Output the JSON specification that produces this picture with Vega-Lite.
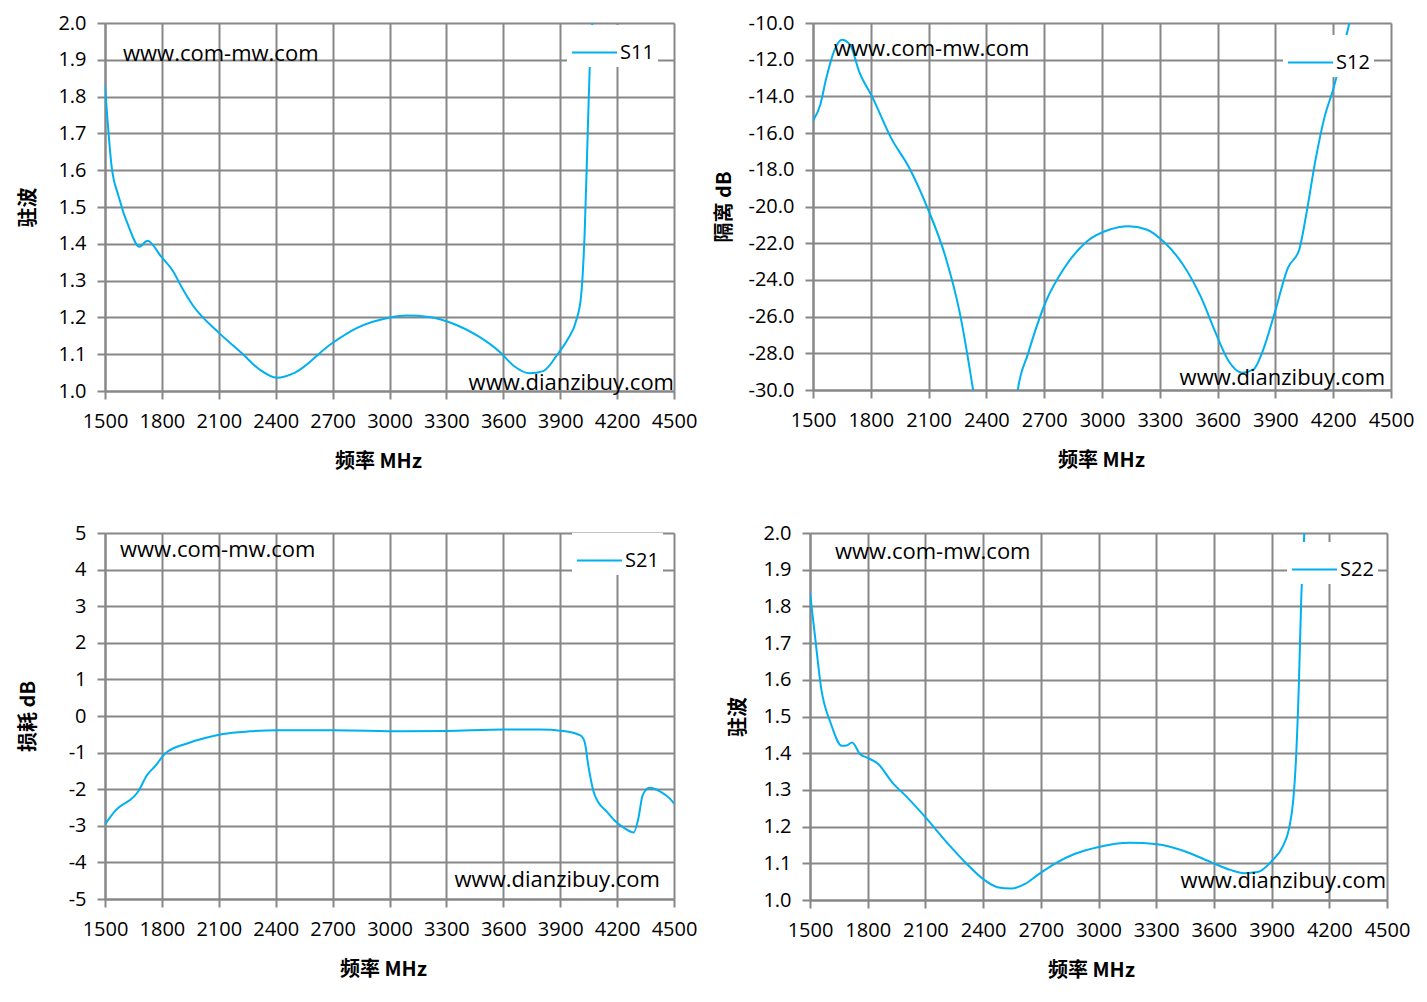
{
  "$schema": "https://vega.github.io/schema/vega-lite/v6.json",
  "background": "white",
  "padding": {"left": 18, "top": 13, "right": 0, "bottom": 12},
  "spacing": 52,
  "config": {
    "view": {"stroke": null},
    "axis": {
      "grid": true,
      "gridColor": "#878787",
      "gridWidth": 2,
      "gridOpacity": 1,
      "domainColor": "#878787",
      "domainWidth": 2,
      "tickColor": "#878787",
      "tickWidth": 2,
      "tickSize": 8,
      "tickCount": 20,
      "labelFont": "Open Sans",
      "labelFontSize": 20,
      "labelColor": "#000000",
      "titleFont": "Noto Sans CJK SC",
      "titleFontSize": 20,
      "titleFontWeight": "bold",
      "titleColor": "#000000"
    },
    "axisX": {"labelPadding": 12, "titlePadding": 20, "labelFlush": false, "labelOverlap": false},
    "axisY": {"labelPadding": 11, "titlePadding": 14, "labelOverlap": false},
    "legend": {
      "orient": "none",
      "title": null,
      "symbolType": "stroke",
      "symbolStrokeWidth": 2,
      "symbolSize": 2025,
      "fillColor": "white",
      "padding": 4,
      "labelFont": "Open Sans",
      "labelFontSize": 20,
      "labelColor": "#000000",
      "labelOffset": 2
    },
    "text": {"font": "Open Sans", "fontSize": 22, "color": "#000000", "baseline": "middle"}
  },
  "resolve": {"scale": {"x": "independent", "y": "independent", "color": "independent"}, "legend": {"color": "independent"}},
  "vconcat": [
    {
      "spacing": 17,
      "resolve": {"scale": {"x": "independent", "y": "independent", "color": "independent"}, "legend": {"color": "independent"}},
      "hconcat": [
        {
          "width": 569,
          "height": 368,
          "data": {"values": [
            {"f": 1500, "v": 1.83, "s": "S11"},
            {"f": 1535, "v": 1.61, "s": "S11"},
            {"f": 1571, "v": 1.53, "s": "S11"},
            {"f": 1630, "v": 1.44, "s": "S11"},
            {"f": 1681, "v": 1.392, "s": "S11"},
            {"f": 1724, "v": 1.408, "s": "S11"},
            {"f": 1795, "v": 1.366, "s": "S11"},
            {"f": 1853, "v": 1.33, "s": "S11"},
            {"f": 1912, "v": 1.275, "s": "S11"},
            {"f": 1960, "v": 1.235, "s": "S11"},
            {"f": 2101, "v": 1.158, "s": "S11"},
            {"f": 2219, "v": 1.104, "s": "S11"},
            {"f": 2313, "v": 1.059, "s": "S11"},
            {"f": 2407, "v": 1.036, "s": "S11"},
            {"f": 2502, "v": 1.05, "s": "S11"},
            {"f": 2690, "v": 1.127, "s": "S11"},
            {"f": 2832, "v": 1.172, "s": "S11"},
            {"f": 2996, "v": 1.199, "s": "S11"},
            {"f": 3091, "v": 1.205, "s": "S11"},
            {"f": 3208, "v": 1.201, "s": "S11"},
            {"f": 3350, "v": 1.18, "s": "S11"},
            {"f": 3468, "v": 1.149, "s": "S11"},
            {"f": 3586, "v": 1.104, "s": "S11"},
            {"f": 3656, "v": 1.068, "s": "S11"},
            {"f": 3739, "v": 1.048, "s": "S11"},
            {"f": 3810, "v": 1.054, "s": "S11"},
            {"f": 3892, "v": 1.104, "s": "S11"},
            {"f": 3939, "v": 1.14, "s": "S11"},
            {"f": 3986, "v": 1.194, "s": "S11"},
            {"f": 4010, "v": 1.257, "s": "S11"},
            {"f": 4029, "v": 1.43, "s": "S11"},
            {"f": 4045, "v": 1.7, "s": "S11"},
            {"f": 4057, "v": 1.9, "s": "S11"},
            {"f": 4069, "v": 2.0, "s": "S11"},
            {"f": 4080, "v": 2.15, "s": "S11"}
          ]},
          "layer": [
            {
              "mark": {"type": "line", "clip": true, "strokeWidth": 2, "interpolate": "monotone"},
              "encoding": {
                "x": {"field": "f", "type": "quantitative", "title": "频率 MHz", "scale": {"domain": [1500, 4500], "nice": false}, "axis": {"values": [1500, 1800, 2100, 2400, 2700, 3000, 3300, 3600, 3900, 4200, 4500], "format": "d", "titleX": 273}},
                "y": {"field": "v", "type": "quantitative", "title": "驻波", "scale": {"domain": [1.0, 2.0], "nice": false, "zero": false}, "axis": {"values": [1.0, 1.1, 1.2, 1.3, 1.4, 1.5, 1.6, 1.7, 1.8, 1.9, 2.0], "format": ".1f", "titleX": -67}},
                "color": {"field": "s", "type": "nominal", "scale": {"range": ["#00B0F0"]}, "legend": {"legendX": 462, "legendY": 2}}
              }
            },
            {
              "data": {"values": [{}]},
              "mark": {"type": "text", "align": "left"},
              "encoding": {"x": {"datum": 1595}, "y": {"datum": 1.916}, "text": {"value": "www.com-mw.com"}}
            },
            {
              "data": {"values": [{}]},
              "mark": {"type": "text", "align": "right"},
              "encoding": {"x": {"datum": 4500}, "y": {"datum": 1.022}, "text": {"value": "www.dianzibuy.com"}}
            }
          ]
        },
        {
          "width": 578,
          "height": 367,
          "data": {"values": [
            {"f": 1500, "v": -15.32, "s": "S12"},
            {"f": 1538, "v": -14.45, "s": "S12"},
            {"f": 1569, "v": -13.0, "s": "S12"},
            {"f": 1609, "v": -11.54, "s": "S12"},
            {"f": 1649, "v": -10.91, "s": "S12"},
            {"f": 1692, "v": -11.18, "s": "S12"},
            {"f": 1739, "v": -12.63, "s": "S12"},
            {"f": 1810, "v": -14.08, "s": "S12"},
            {"f": 1905, "v": -16.26, "s": "S12"},
            {"f": 2000, "v": -17.9, "s": "S12"},
            {"f": 2094, "v": -20.07, "s": "S12"},
            {"f": 2189, "v": -22.79, "s": "S12"},
            {"f": 2260, "v": -25.7, "s": "S12"},
            {"f": 2331, "v": -30.0, "s": "S12"},
            {"f": 2360, "v": -32.0, "s": "S12"},
            {"f": 2540, "v": -32.0, "s": "S12"},
            {"f": 2563, "v": -30.0, "s": "S12"},
            {"f": 2615, "v": -28.06, "s": "S12"},
            {"f": 2710, "v": -25.15, "s": "S12"},
            {"f": 2805, "v": -23.34, "s": "S12"},
            {"f": 2923, "v": -21.89, "s": "S12"},
            {"f": 3041, "v": -21.25, "s": "S12"},
            {"f": 3136, "v": -21.07, "s": "S12"},
            {"f": 3231, "v": -21.25, "s": "S12"},
            {"f": 3326, "v": -21.98, "s": "S12"},
            {"f": 3420, "v": -23.16, "s": "S12"},
            {"f": 3515, "v": -24.97, "s": "S12"},
            {"f": 3586, "v": -26.79, "s": "S12"},
            {"f": 3657, "v": -28.42, "s": "S12"},
            {"f": 3728, "v": -29.06, "s": "S12"},
            {"f": 3787, "v": -28.87, "s": "S12"},
            {"f": 3834, "v": -27.88, "s": "S12"},
            {"f": 3894, "v": -25.88, "s": "S12"},
            {"f": 3965, "v": -23.34, "s": "S12"},
            {"f": 4024, "v": -22.34, "s": "S12"},
            {"f": 4060, "v": -20.44, "s": "S12"},
            {"f": 4107, "v": -17.53, "s": "S12"},
            {"f": 4154, "v": -15.17, "s": "S12"},
            {"f": 4202, "v": -13.54, "s": "S12"},
            {"f": 4284, "v": -10.0, "s": "S12"},
            {"f": 4300, "v": -9.3, "s": "S12"}
          ]},
          "layer": [
            {
              "mark": {"type": "line", "clip": true, "strokeWidth": 2, "interpolate": "monotone"},
              "encoding": {
                "x": {"field": "f", "type": "quantitative", "title": "频率 MHz", "scale": {"domain": [1500, 4500], "nice": false}, "axis": {"values": [1500, 1800, 2100, 2400, 2700, 3000, 3300, 3600, 3900, 4200, 4500], "format": "d", "titleX": 288}},
                "y": {"field": "v", "type": "quantitative", "title": "隔离 dB", "scale": {"domain": [-30, -10], "nice": false, "zero": false}, "axis": {"values": [-30, -28, -26, -24, -22, -20, -18, -16, -14, -12, -10], "labelExpr": "replace(format(datum.value, '.1f'), '−', '-')"}},
                "color": {"field": "s", "type": "nominal", "scale": {"range": ["#00B0F0"]}, "legend": {"legendX": 470, "legendY": 12}}
              }
            },
            {
              "data": {"values": [{}]},
              "mark": {"type": "text", "align": "left"},
              "encoding": {"x": {"datum": 1609}, "y": {"datum": -11.42}, "text": {"value": "www.com-mw.com"}}
            },
            {
              "data": {"values": [{}]},
              "mark": {"type": "text", "align": "right"},
              "encoding": {"x": {"datum": 4469}, "y": {"datum": -29.35}, "text": {"value": "www.dianzibuy.com"}}
            }
          ]
        }
      ]
    },
    {
      "spacing": 136,
      "bounds": "flush",
      "resolve": {"scale": {"x": "independent", "y": "independent", "color": "independent"}, "legend": {"color": "independent"}},
      "hconcat": [
        {
          "width": 569,
          "height": 366,
          "data": {"values": [
            {"f": 1500, "v": -2.96, "s": "S21"},
            {"f": 1557, "v": -2.57, "s": "S21"},
            {"f": 1651, "v": -2.21, "s": "S21"},
            {"f": 1674, "v": -2.07, "s": "S21"},
            {"f": 1721, "v": -1.62, "s": "S21"},
            {"f": 1768, "v": -1.35, "s": "S21"},
            {"f": 1816, "v": -1.03, "s": "S21"},
            {"f": 1933, "v": -0.75, "s": "S21"},
            {"f": 2027, "v": -0.6, "s": "S21"},
            {"f": 2122, "v": -0.49, "s": "S21"},
            {"f": 2263, "v": -0.42, "s": "S21"},
            {"f": 2404, "v": -0.39, "s": "S21"},
            {"f": 2710, "v": -0.39, "s": "S21"},
            {"f": 3064, "v": -0.42, "s": "S21"},
            {"f": 3300, "v": -0.41, "s": "S21"},
            {"f": 3605, "v": -0.37, "s": "S21"},
            {"f": 3794, "v": -0.37, "s": "S21"},
            {"f": 3912, "v": -0.41, "s": "S21"},
            {"f": 4006, "v": -0.53, "s": "S21"},
            {"f": 4029, "v": -0.71, "s": "S21"},
            {"f": 4048, "v": -1.35, "s": "S21"},
            {"f": 4076, "v": -2.07, "s": "S21"},
            {"f": 4100, "v": -2.35, "s": "S21"},
            {"f": 4147, "v": -2.62, "s": "S21"},
            {"f": 4194, "v": -2.89, "s": "S21"},
            {"f": 4241, "v": -3.07, "s": "S21"},
            {"f": 4288, "v": -3.18, "s": "S21"},
            {"f": 4312, "v": -2.8, "s": "S21"},
            {"f": 4335, "v": -2.16, "s": "S21"},
            {"f": 4371, "v": -1.96, "s": "S21"},
            {"f": 4430, "v": -2.07, "s": "S21"},
            {"f": 4477, "v": -2.25, "s": "S21"},
            {"f": 4500, "v": -2.39, "s": "S21"}
          ]},
          "layer": [
            {
              "mark": {"type": "line", "clip": true, "strokeWidth": 2, "interpolate": "monotone"},
              "encoding": {
                "x": {"field": "f", "type": "quantitative", "title": "频率 MHz", "scale": {"domain": [1500, 4500], "nice": false}, "axis": {"values": [1500, 1800, 2100, 2400, 2700, 3000, 3300, 3600, 3900, 4200, 4500], "format": "d", "titleX": 278}},
                "y": {"field": "v", "type": "quantitative", "title": "损耗 dB", "scale": {"domain": [-5, 5], "nice": false, "zero": false}, "axis": {"values": [-5, -4, -3, -2, -1, 0, 1, 2, 3, 4, 5], "labelExpr": "replace(format(datum.value, 'd'), '−', '-')", "titleX": -67}},
                "color": {"field": "s", "type": "nominal", "scale": {"range": ["#00B0F0"]}, "legend": {"legendX": 467, "legendY": 0}}
              }
            },
            {
              "data": {"values": [{}]},
              "mark": {"type": "text", "align": "left"},
              "encoding": {"x": {"datum": 1579}, "y": {"datum": 4.54}, "text": {"value": "www.com-mw.com"}}
            },
            {
              "data": {"values": [{}]},
              "mark": {"type": "text", "align": "right"},
              "encoding": {"x": {"datum": 4426}, "y": {"datum": -4.48}, "text": {"value": "www.dianzibuy.com"}}
            }
          ]
        },
        {
          "width": 577,
          "height": 367,
          "data": {"values": [
            {"f": 1500, "v": 1.837, "s": "S22"},
            {"f": 1524, "v": 1.728, "s": "S22"},
            {"f": 1559, "v": 1.574, "s": "S22"},
            {"f": 1607, "v": 1.483, "s": "S22"},
            {"f": 1666, "v": 1.42, "s": "S22"},
            {"f": 1690, "v": 1.421, "s": "S22"},
            {"f": 1719, "v": 1.429, "s": "S22"},
            {"f": 1761, "v": 1.397, "s": "S22"},
            {"f": 1797, "v": 1.388, "s": "S22"},
            {"f": 1856, "v": 1.37, "s": "S22"},
            {"f": 1928, "v": 1.32, "s": "S22"},
            {"f": 1999, "v": 1.283, "s": "S22"},
            {"f": 2094, "v": 1.229, "s": "S22"},
            {"f": 2213, "v": 1.156, "s": "S22"},
            {"f": 2308, "v": 1.102, "s": "S22"},
            {"f": 2403, "v": 1.056, "s": "S22"},
            {"f": 2474, "v": 1.035, "s": "S22"},
            {"f": 2545, "v": 1.031, "s": "S22"},
            {"f": 2616, "v": 1.043, "s": "S22"},
            {"f": 2688, "v": 1.07, "s": "S22"},
            {"f": 2783, "v": 1.102, "s": "S22"},
            {"f": 2878, "v": 1.126, "s": "S22"},
            {"f": 2996, "v": 1.144, "s": "S22"},
            {"f": 3163, "v": 1.156, "s": "S22"},
            {"f": 3305, "v": 1.152, "s": "S22"},
            {"f": 3448, "v": 1.133, "s": "S22"},
            {"f": 3590, "v": 1.102, "s": "S22"},
            {"f": 3685, "v": 1.082, "s": "S22"},
            {"f": 3757, "v": 1.073, "s": "S22"},
            {"f": 3828, "v": 1.076, "s": "S22"},
            {"f": 3900, "v": 1.106, "s": "S22"},
            {"f": 3959, "v": 1.147, "s": "S22"},
            {"f": 3990, "v": 1.193, "s": "S22"},
            {"f": 4013, "v": 1.274, "s": "S22"},
            {"f": 4025, "v": 1.365, "s": "S22"},
            {"f": 4042, "v": 1.592, "s": "S22"},
            {"f": 4054, "v": 1.819, "s": "S22"},
            {"f": 4070, "v": 2.0, "s": "S22"},
            {"f": 4080, "v": 2.15, "s": "S22"}
          ]},
          "layer": [
            {
              "mark": {"type": "line", "clip": true, "strokeWidth": 2, "interpolate": "monotone"},
              "encoding": {
                "x": {"field": "f", "type": "quantitative", "title": "频率 MHz", "scale": {"domain": [1500, 4500], "nice": false}, "axis": {"values": [1500, 1800, 2100, 2400, 2700, 3000, 3300, 3600, 3900, 4200, 4500], "format": "d", "titleX": 281}},
                "y": {"field": "v", "type": "quantitative", "title": "驻波", "scale": {"domain": [1.0, 2.0], "nice": false, "zero": false}, "axis": {"values": [1.0, 1.1, 1.2, 1.3, 1.4, 1.5, 1.6, 1.7, 1.8, 1.9, 2.0], "format": ".1f"}},
                "color": {"field": "s", "type": "nominal", "scale": {"range": ["#00B0F0"]}, "legend": {"legendX": 477, "legendY": 9}}
              }
            },
            {
              "data": {"values": [{}]},
              "mark": {"type": "text", "align": "left"},
              "encoding": {"x": {"datum": 1630}, "y": {"datum": 1.948}, "text": {"value": "www.com-mw.com"}}
            },
            {
              "data": {"values": [{}]},
              "mark": {"type": "text", "align": "right"},
              "encoding": {"x": {"datum": 4495}, "y": {"datum": 1.052}, "text": {"value": "www.dianzibuy.com"}}
            }
          ]
        }
      ]
    }
  ]
}
